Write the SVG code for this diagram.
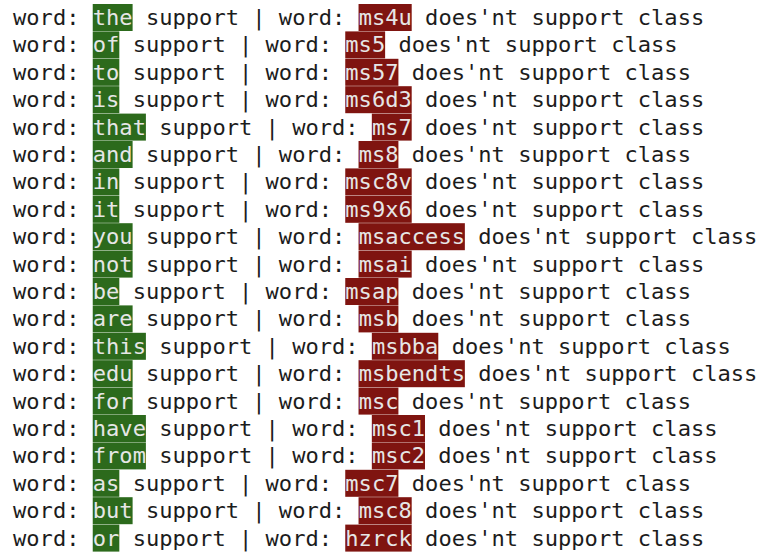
<svg xmlns="http://www.w3.org/2000/svg" width="772" height="556" viewBox="0 0 772 556">
<style>
text{font-family:"DejaVu Sans Mono","Liberation Mono",monospace;font-size:22.08px;fill:#1c1c1c;white-space:pre}
.g{fill:#2c6a1c}
.r{fill:#7f1410}
.h{fill:#e6e6e6}
</style>
<rect width="772" height="556" fill="#ffffff"/>
<g id="row1" transform="translate(0,0)"><rect class="g" x="92.74" y="4" width="39.87" height="27"/><rect class="r" x="358.54" y="4" width="53.16" height="27"/><text x="13" y="25">word: <tspan class="h">the</tspan> support | word: <tspan class="h">ms4u</tspan> does'nt support class</text></g>
<g id="row2" transform="translate(0,27.4)"><rect class="g" x="92.74" y="4" width="26.58" height="27"/><rect class="r" x="345.25" y="4" width="39.87" height="27"/><text x="13" y="25">word: <tspan class="h">of</tspan> support | word: <tspan class="h">ms5</tspan> does'nt support class</text></g>
<g id="row3" transform="translate(0,54.8)"><rect class="g" x="92.74" y="4" width="26.58" height="27"/><rect class="r" x="345.25" y="4" width="53.16" height="27"/><text x="13" y="25">word: <tspan class="h">to</tspan> support | word: <tspan class="h">ms57</tspan> does'nt support class</text></g>
<g id="row4" transform="translate(0,82.2)"><rect class="g" x="92.74" y="4" width="26.58" height="27"/><rect class="r" x="345.25" y="4" width="66.45" height="27"/><text x="13" y="25">word: <tspan class="h">is</tspan> support | word: <tspan class="h">ms6d3</tspan> does'nt support class</text></g>
<g id="row5" transform="translate(0,109.6)"><rect class="g" x="92.74" y="4" width="53.16" height="27"/><rect class="r" x="371.83" y="4" width="39.87" height="27"/><text x="13" y="25">word: <tspan class="h">that</tspan> support | word: <tspan class="h">ms7</tspan> does'nt support class</text></g>
<g id="row6" transform="translate(0,137)"><rect class="g" x="92.74" y="4" width="39.87" height="27"/><rect class="r" x="358.54" y="4" width="39.87" height="27"/><text x="13" y="25">word: <tspan class="h">and</tspan> support | word: <tspan class="h">ms8</tspan> does'nt support class</text></g>
<g id="row7" transform="translate(0,164.4)"><rect class="g" x="92.74" y="4" width="26.58" height="27"/><rect class="r" x="345.25" y="4" width="66.45" height="27"/><text x="13" y="25">word: <tspan class="h">in</tspan> support | word: <tspan class="h">msc8v</tspan> does'nt support class</text></g>
<g id="row8" transform="translate(0,191.8)"><rect class="g" x="92.74" y="4" width="26.58" height="27"/><rect class="r" x="345.25" y="4" width="66.45" height="27"/><text x="13" y="25">word: <tspan class="h">it</tspan> support | word: <tspan class="h">ms9x6</tspan> does'nt support class</text></g>
<g id="row9" transform="translate(0,219.2)"><rect class="g" x="92.74" y="4" width="39.87" height="27"/><rect class="r" x="358.54" y="4" width="106.32" height="27"/><text x="13" y="25">word: <tspan class="h">you</tspan> support | word: <tspan class="h">msaccess</tspan> does'nt support class</text></g>
<g id="row10" transform="translate(0,246.6)"><rect class="g" x="92.74" y="4" width="39.87" height="27"/><rect class="r" x="358.54" y="4" width="53.16" height="27"/><text x="13" y="25">word: <tspan class="h">not</tspan> support | word: <tspan class="h">msai</tspan> does'nt support class</text></g>
<g id="row11" transform="translate(0,274)"><rect class="g" x="92.74" y="4" width="26.58" height="27"/><rect class="r" x="345.25" y="4" width="53.16" height="27"/><text x="13" y="25">word: <tspan class="h">be</tspan> support | word: <tspan class="h">msap</tspan> does'nt support class</text></g>
<g id="row12" transform="translate(0,301.4)"><rect class="g" x="92.74" y="4" width="39.87" height="27"/><rect class="r" x="358.54" y="4" width="39.87" height="27"/><text x="13" y="25">word: <tspan class="h">are</tspan> support | word: <tspan class="h">msb</tspan> does'nt support class</text></g>
<g id="row13" transform="translate(0,328.8)"><rect class="g" x="92.74" y="4" width="53.16" height="27"/><rect class="r" x="371.83" y="4" width="66.45" height="27"/><text x="13" y="25">word: <tspan class="h">this</tspan> support | word: <tspan class="h">msbba</tspan> does'nt support class</text></g>
<g id="row14" transform="translate(0,356.2)"><rect class="g" x="92.74" y="4" width="39.87" height="27"/><rect class="r" x="358.54" y="4" width="106.32" height="27"/><text x="13" y="25">word: <tspan class="h">edu</tspan> support | word: <tspan class="h">msbendts</tspan> does'nt support class</text></g>
<g id="row15" transform="translate(0,383.6)"><rect class="g" x="92.74" y="4" width="39.87" height="27"/><rect class="r" x="358.54" y="4" width="39.87" height="27"/><text x="13" y="25">word: <tspan class="h">for</tspan> support | word: <tspan class="h">msc</tspan> does'nt support class</text></g>
<g id="row16" transform="translate(0,411)"><rect class="g" x="92.74" y="4" width="53.16" height="27"/><rect class="r" x="371.83" y="4" width="53.16" height="27"/><text x="13" y="25">word: <tspan class="h">have</tspan> support | word: <tspan class="h">msc1</tspan> does'nt support class</text></g>
<g id="row17" transform="translate(0,438.4)"><rect class="g" x="92.74" y="4" width="53.16" height="27"/><rect class="r" x="371.83" y="4" width="53.16" height="27"/><text x="13" y="25">word: <tspan class="h">from</tspan> support | word: <tspan class="h">msc2</tspan> does'nt support class</text></g>
<g id="row18" transform="translate(0,465.8)"><rect class="g" x="92.74" y="4" width="26.58" height="27"/><rect class="r" x="345.25" y="4" width="53.16" height="27"/><text x="13" y="25">word: <tspan class="h">as</tspan> support | word: <tspan class="h">msc7</tspan> does'nt support class</text></g>
<g id="row19" transform="translate(0,493.2)"><rect class="g" x="92.74" y="4" width="39.87" height="27"/><rect class="r" x="358.54" y="4" width="53.16" height="27"/><text x="13" y="25">word: <tspan class="h">but</tspan> support | word: <tspan class="h">msc8</tspan> does'nt support class</text></g>
<g id="row20" transform="translate(0,520.6)"><rect class="g" x="92.74" y="4" width="26.58" height="27"/><rect class="r" x="345.25" y="4" width="66.45" height="27"/><text x="13" y="25">word: <tspan class="h">or</tspan> support | word: <tspan class="h">hzrck</tspan> does'nt support class</text></g>
<g id="connectors"/>
</svg>
